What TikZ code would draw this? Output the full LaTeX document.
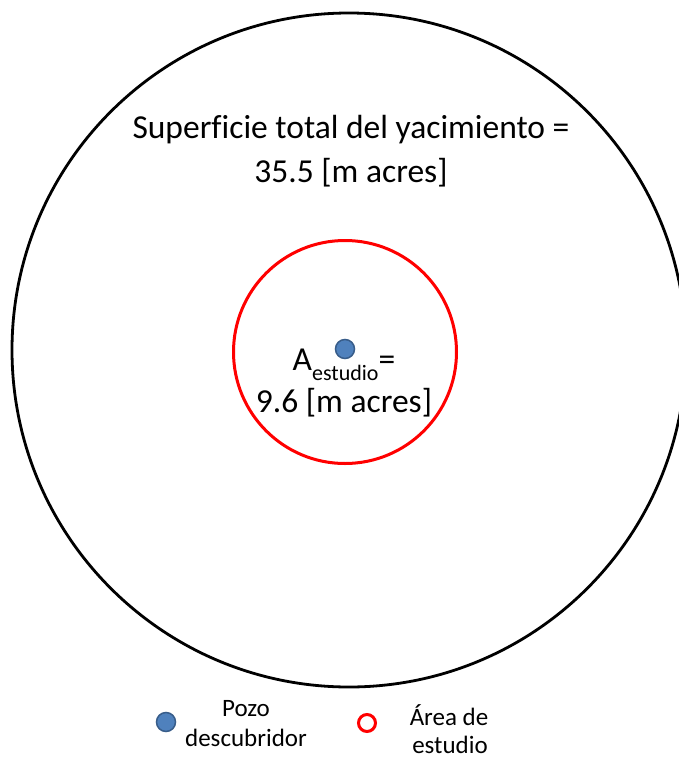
\documentclass[tikz,border=0pt]{standalone}
\usepackage{fontspec}
\setmainfont{Carlito}[Ligatures=NoCommon]
\definecolor{wellfill}{HTML}{4F81BD}
\definecolor{welldraw}{HTML}{385D8A}
\definecolor{studyred}{HTML}{FF0000}
\tikzset{
  bigtxt/.style={anchor=base, inner sep=0pt, font=\fontsize{33.5}{40}\selectfont},
  legtxt/.style={anchor=base, inner sep=0pt, font=\fontsize{25}{30}\selectfont},
  well/.style={circle, fill=wellfill, draw=welldraw, line width=1.5pt, minimum size=19pt, inner sep=0pt},
  studymark/.style={circle, draw=studyred, line width=3pt, minimum size=17pt, inner sep=0pt}
}
\begin{document}
\begin{tikzpicture}[x=1pt, y=-1pt]
\useasboundingbox (0,0) rectangle (679,758);
\clip (0,0) rectangle (679,758);
\fill[white] (0,0) rectangle (679,758);
% field
\node[circle, draw=black, line width=2.8pt, minimum size=674pt, inner sep=0pt] (field) at (349,350) {};
% study area
\node[circle, draw=studyred, line width=3pt, minimum size=223pt, inner sep=0pt] (study) at (345,352) {};
% discovery well
\node[well] (pozo) at (345,349) {};
% labels
\node[bigtxt] (sup1) at (351,138) {Superficie total del yacimiento =};
\node[bigtxt] (sup2) at (351,182) {35.5 [m acres]};
\node[bigtxt] (aes1) at (344,370) {A\raisebox{-10pt}{\fontsize{22}{22}\selectfont estudio}=};
\node[bigtxt] (aes2) at (344,412) {9.6 [m acres]};
% legend
\node[well] (legwell) at (166,722) {};
\node[legtxt] (leg1a) at (246,716) {Pozo};
\node[legtxt] (leg1b) at (246,746) {descubridor};
\node[studymark] (legstudy) at (367,723) {};
\node[legtxt] (leg2a) at (449,725) {Área de};
\node[legtxt] (leg2b) at (450,753) {estudio};
\end{tikzpicture}
\end{document}
